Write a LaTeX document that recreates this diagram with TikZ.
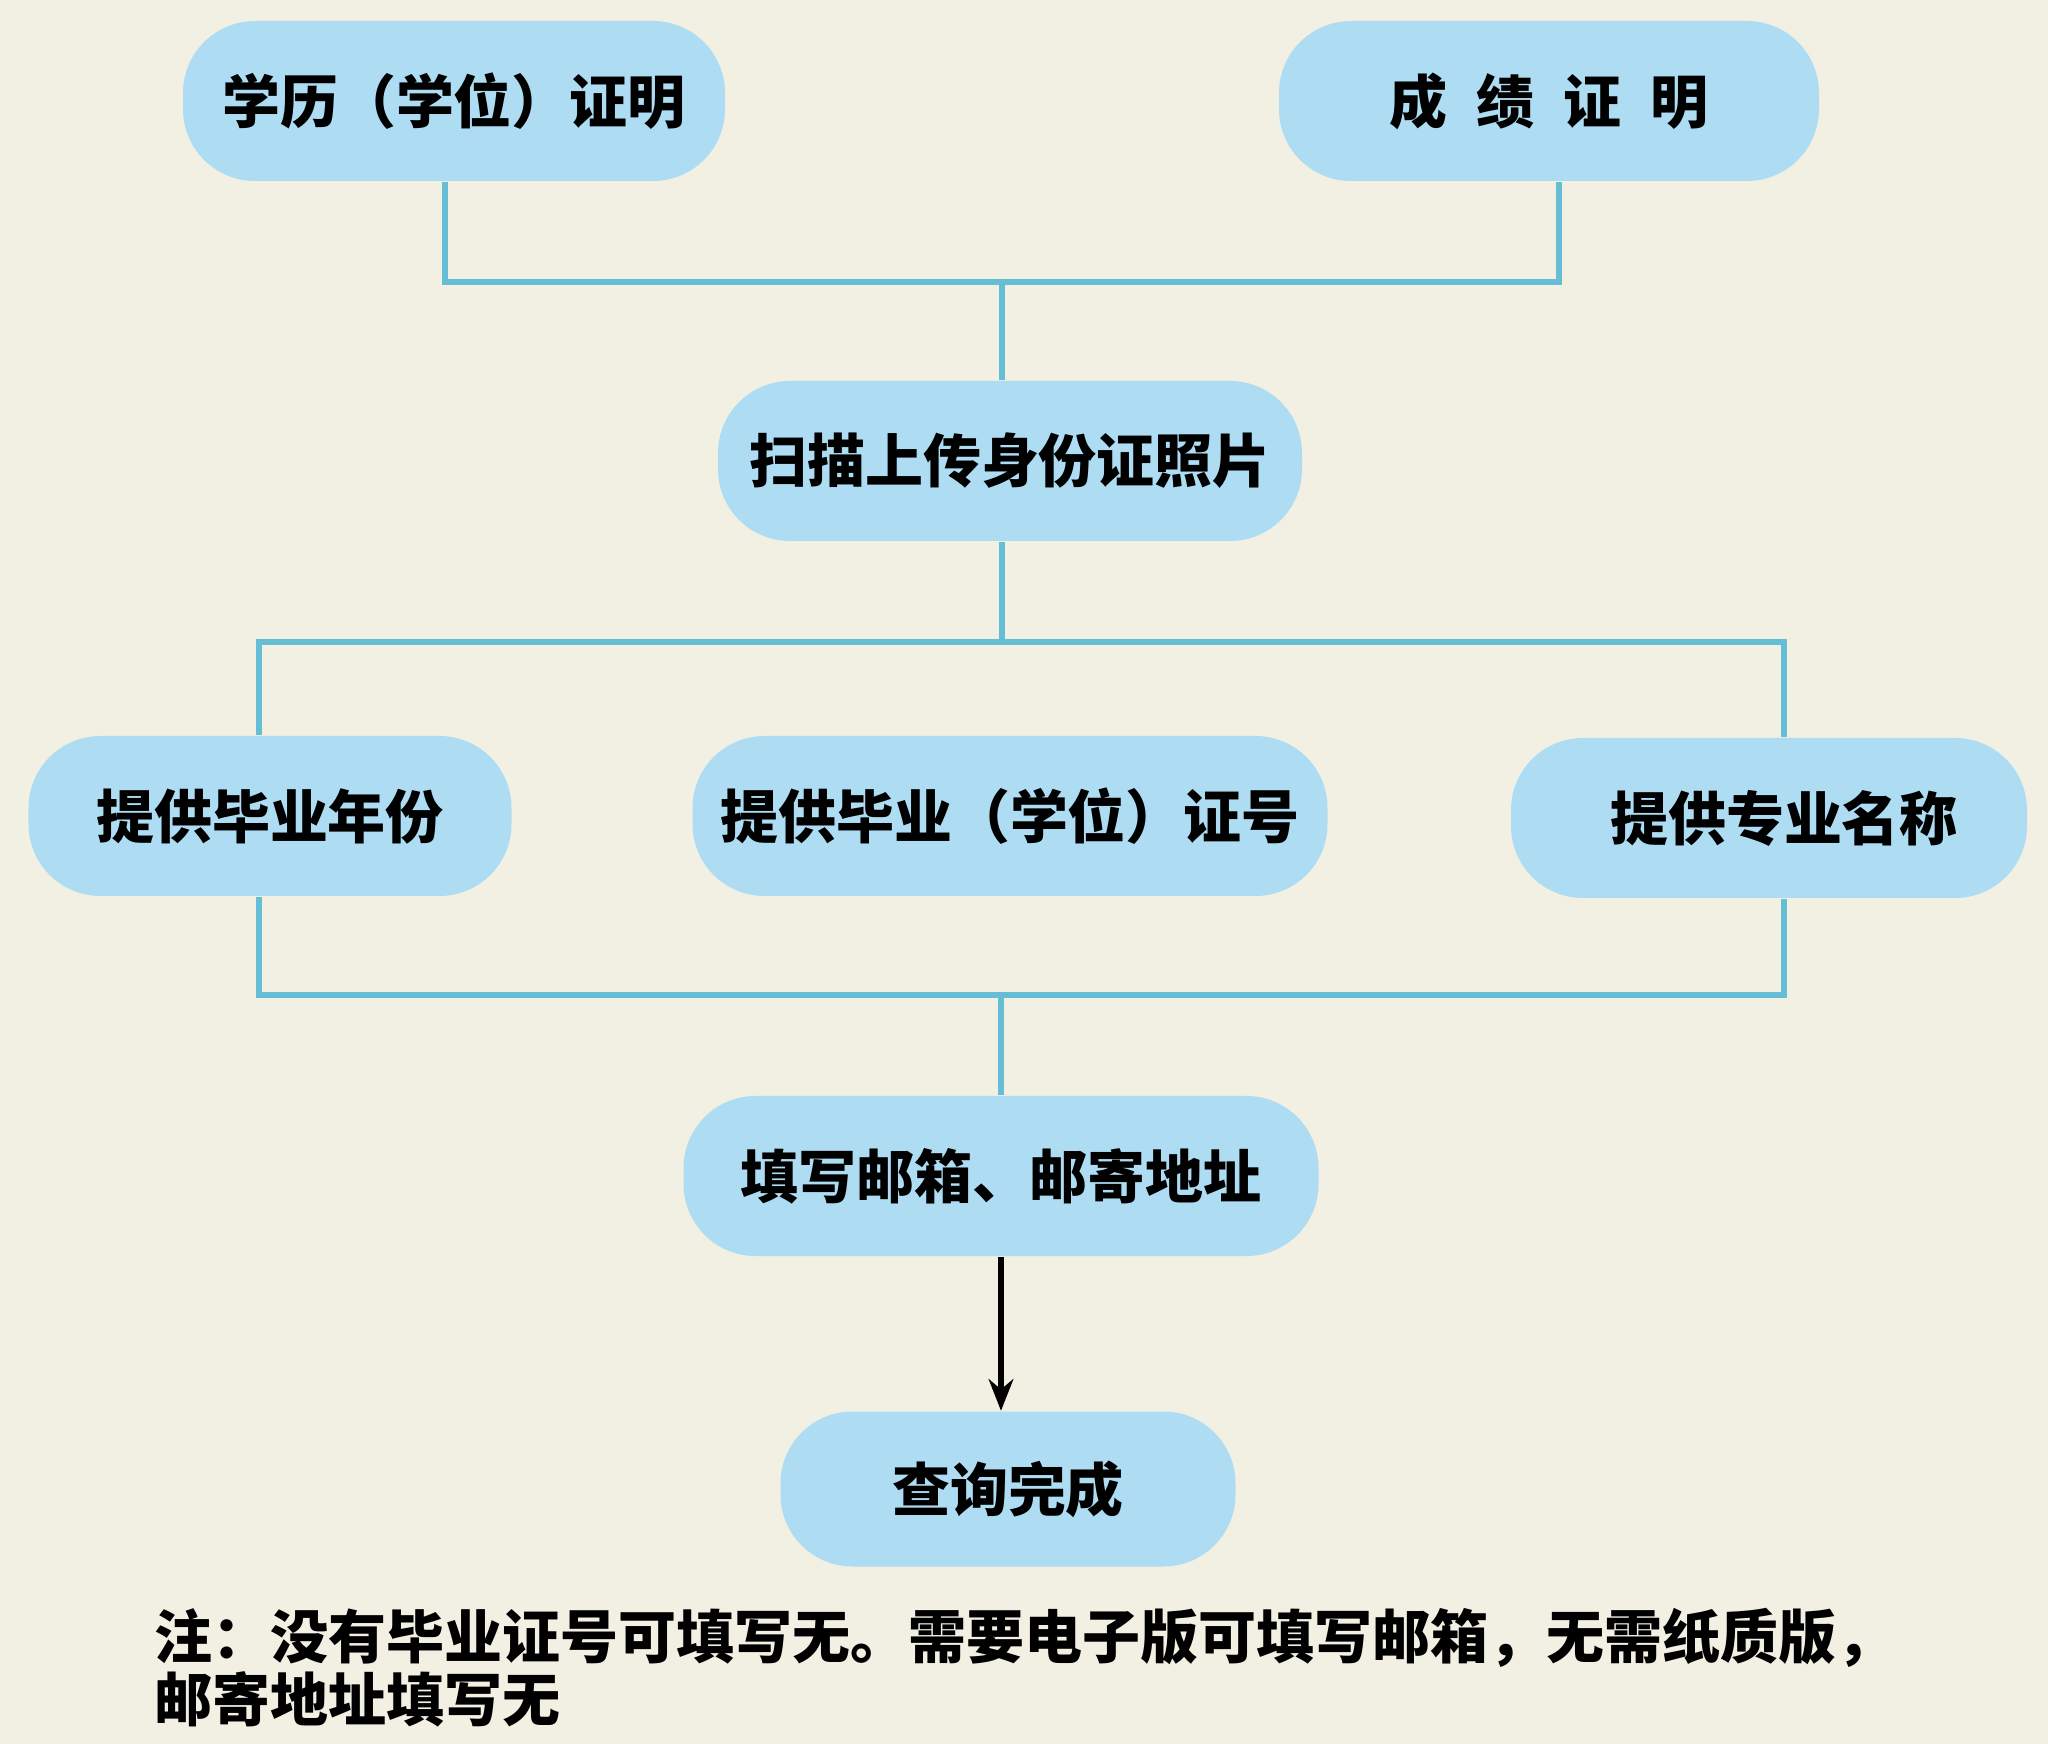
\documentclass[tikz,border=0pt]{standalone}
\usepackage{fontspec}
\setmainfont{Noto Sans CJK SC}
\usetikzlibrary{arrows.meta,positioning}
\definecolor{paper}{HTML}{F2EFE3}
\definecolor{pillblue}{HTML}{ADDCF3}
\definecolor{buscol}{HTML}{66BED6}

\begin{document}
\begin{tikzpicture}[node distance=3.6cm, font=\fontsize{16.5pt}{16.5pt}\selectfont\bfseries]
  \tikzstyle{pill}=[fill=pillblue, draw=none, rounded corners=0.72cm, minimum height=1.6cm, inner sep=0pt, text=black]
  \tikzstyle{bus}=[draw=buscol, line width=1.7pt]
  \tikzstyle{flow}=[-{Stealth[length=9pt,width=7pt]}, line width=1.5pt, black]

  \fill[paper] (0,0) rectangle (20.48,-17.44);
  \useasboundingbox (0,0) rectangle (20.48,-17.44);

  \node[pill, minimum width=5.42cm] (xueli) at (4.54,-1.01) {学历（学位）证明};
  \node[pill, minimum width=5.40cm, node distance=10.95cm] (chengji) [right of=xueli] {成\hspace{0.5em}绩\hspace{0.5em}证\hspace{0.5em}明};
  \node[pill, minimum width=5.84cm] (scan) [below of=xueli, xshift=5.56cm] {扫描上传身份证照片};
  \node[pill, minimum width=4.83cm, node distance=3.55cm] (nian) [below of=scan, xshift=-7.4cm] {提供毕业年份};
  \node[pill, minimum width=6.35cm, node distance=3.55cm] (zhenghao) [below of=scan] {提供毕业（学位）证号};
  \node[pill, minimum width=5.16cm, node distance=3.57cm] (zhuanye) [below of=scan, xshift=7.59cm] {\hspace{0.3cm}提供专业名称};
  \node[pill, minimum width=6.35cm] (youxiang) [below of=zhenghao, xshift=-0.09cm] {填写邮箱、邮寄地址};
  \node[pill, minimum width=4.55cm, minimum height=1.55cm, node distance=3.13cm] (wancheng) [below of=youxiang, xshift=0.07cm] {查询完成};

  \node[anchor=north west, align=left, inner sep=0pt] (note) at (1.54,-16.08)
    {注：没有毕业证号可填写无。需要电子版可填写邮箱，无需纸质版，\\邮寄地址填写无};

  % junction points of the two bus lines
  \coordinate (bus1) at ([yshift=-1.0cm,xshift=-0.08cm]scan.north |- xueli.south);
  \coordinate (bus2) at ([yshift=-1.0cm,xshift=-0.08cm]scan.south);
  \coordinate (bus3) at ([yshift=1.0cm]youxiang.north);

  \draw[bus] ([xshift=-0.09cm]xueli.south) |- (bus1) -| ([xshift=0.10cm]chengji.south);
  \draw[bus] (bus1) -- (bus1 |- scan.north);
  \draw[bus] (bus2 |- scan.south) -- (bus2);
  \draw[bus] ([xshift=-0.11cm]nian.north) |- (bus2) -| ([xshift=0.15cm]zhuanye.north);
  \draw[bus] ([xshift=-0.11cm]nian.south) |- (bus3) -| ([xshift=0.15cm]zhuanye.south);
  \draw[bus] (bus3) -- (youxiang.north);
  \draw[flow] (youxiang) -- (youxiang |- wancheng.north);
\end{tikzpicture}
\end{document}
